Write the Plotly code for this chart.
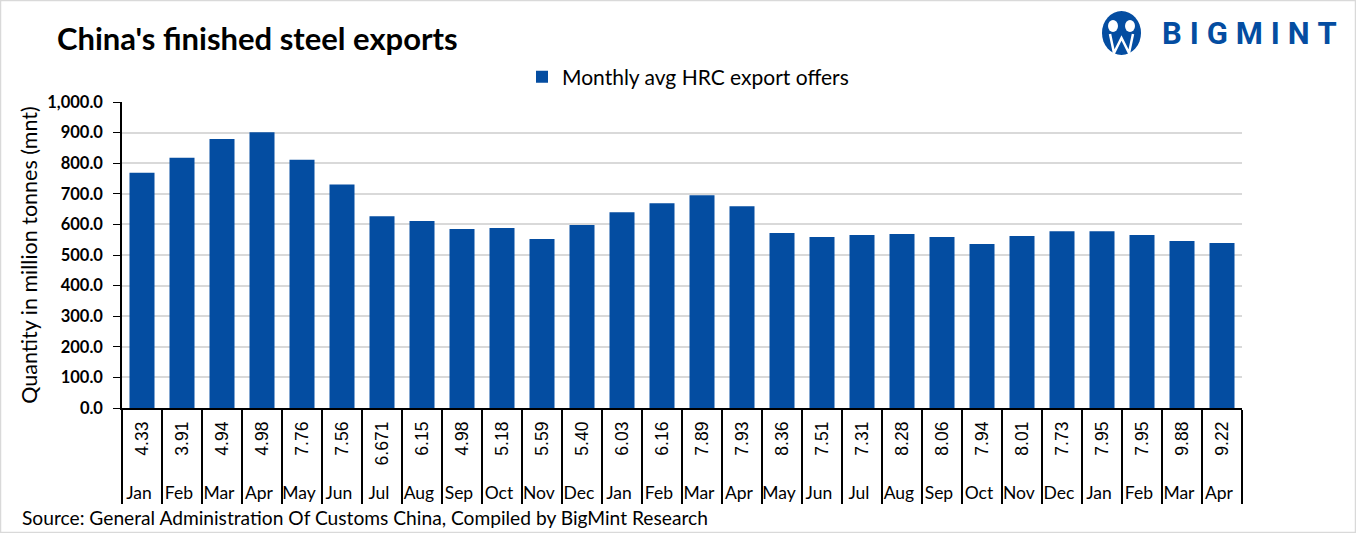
"""
Bar chart of China's finished steel exports with HRC export offer labels under each month.
"""
import plotly.graph_objects as go

months = ["Jan", "Feb", "Mar", "Apr", "May", "Jun", "Jul", "Aug", "Sep", "Oct", "Nov", "Dec",
          "Jan", "Feb", "Mar", "Apr", "May", "Jun", "Jul", "Aug", "Sep", "Oct", "Nov", "Dec",
          "Jan", "Feb", "Mar", "Apr"]
offer_labels = ["4.33", "3.91", "4.94", "4.98", "7.76", "7.56", "6.671", "6.15", "4.98", "5.18",
                "5.59", "5.40", "6.03", "6.16", "7.89", "7.93", "8.36", "7.51", "7.31", "8.28",
                "8.06", "7.94", "8.01", "7.73", "7.95", "7.95", "9.88", "9.22"]
exports = [769, 818, 879, 901, 811, 730, 627, 611, 585, 588, 552, 598, 640, 669,
           695, 659, 572, 559, 565, 569, 559, 536, 562, 578, 578, 565, 546, 539]
y_ticks = [0, 100, 200, 300, 400, 500, 600, 700, 800, 900, 1000]

BLUE = "#044DA1"
FONT = "Lato, Carlito, Calibri, sans-serif"
W, H = 1356, 533
ML, MR, MT, MB = 122, 114, 102, 125
PW, PH = W - ML - MR, H - MT - MB


def px(x):
    return (x - ML) / PW


def py(y):
    return 1 - (y - MT) / PH


# zero-width spaces keep repeated month names as separate groups
outer = [m + "\u200b" * (i // 12) for i, m in enumerate(months)]
inner = [f'<span style="font-family:Liberation Sans;font-size:17.5px">{v}\u00a0</span>' for v in offer_labels]

fig = go.Figure()
fig.add_trace(go.Bar(
    x=[outer, inner],
    y=exports,
    marker=dict(color=BLUE, line=dict(width=0)),
    name="Monthly avg HRC export offers",
))

fig.update_layout(
    width=W, height=H,
    margin=dict(l=ML, r=MR, t=MT, b=MB, pad=0),
    paper_bgcolor="white", plot_bgcolor="white",
    font=dict(family=FONT, color="black", size=16),
    bargap=0.375,
    showlegend=True,
    legend=dict(orientation="h", x=px(688), xanchor="center", y=py(77), yanchor="middle",
                font=dict(size=21), itemwidth=30),
    xaxis=dict(
        type="multicategory",
        showline=True, linecolor="black", linewidth=1.5,
        tickangle=-90,
        showdividers=True, dividercolor="black", dividerwidth=1.5,
        tickfont=dict(size=17.5),
        showgrid=False,
    ),
    yaxis=dict(
        range=[0, 1000],
        tickvals=y_ticks,
        ticktext=[f"<b>{v:,.1f}</b>" for v in y_ticks],
        tickfont=dict(size=16.5),
        showline=True, linecolor="black", linewidth=1.5,
        ticks="outside", ticklen=7, tickcolor="black",
        ticklabelstandoff=7,
        gridcolor="#D9D9D9", gridwidth=1.5,
        title=dict(text="Quantity in million tonnes (mnt)", font=dict(size=21.5), standoff=4),
    ),
    annotations=[
        dict(text="<b>China's finished steel exports</b>", xref="paper", yref="paper",
             x=px(55), y=py(38), xanchor="left", yanchor="middle", showarrow=False,
             font=dict(size=31)),
        dict(text="Source: General Administration Of Customs China, Compiled by BigMint Research",
             xref="paper", yref="paper", x=px(20), y=py(517), xanchor="left", yanchor="middle",
             showarrow=False, font=dict(size=19.2)),
        dict(text="<b>" + "\u2005".join("BIGMINT") + "</b>", xref="paper", yref="paper",
             x=px(1160), y=py(34), xanchor="left", yanchor="middle", showarrow=False,
             font=dict(size=31, family="Roboto", color=BLUE)),
    ],
    shapes=[
        dict(type="rect", xref="paper", yref="paper", x0=px(0.5), x1=px(W - 0.5),
             y0=py(H - 0.5), y1=py(0.5), line=dict(color="#D9D9D9", width=1.5)),
        dict(type="circle", xref="paper", yref="paper", x0=px(1102), x1=px(1141),
             y0=py(55), y1=py(11), fillcolor=BLUE, line=dict(width=0)),
        dict(type="circle", xref="paper", yref="paper", x0=px(1108), x1=px(1118),
             y0=py(32), y1=py(20), fillcolor="white", line=dict(width=0)),
        dict(type="circle", xref="paper", yref="paper", x0=px(1125), x1=px(1135),
             y0=py(32), y1=py(20), fillcolor="white", line=dict(width=0)),
        dict(type="path", xref="paper", yref="paper",
             path=f"M {px(1110)} {py(34)} L {px(1114)} {py(53)} L {px(1121.5)} {py(38)} "
                  f"L {px(1129)} {py(53)} L {px(1133)} {py(34)}",
             line=dict(color="white", width=2.5)),
    ],
)

fig.write_html("out.html", config={"displayModeBar": False},
               post_script="document.body.style.margin='0';")
